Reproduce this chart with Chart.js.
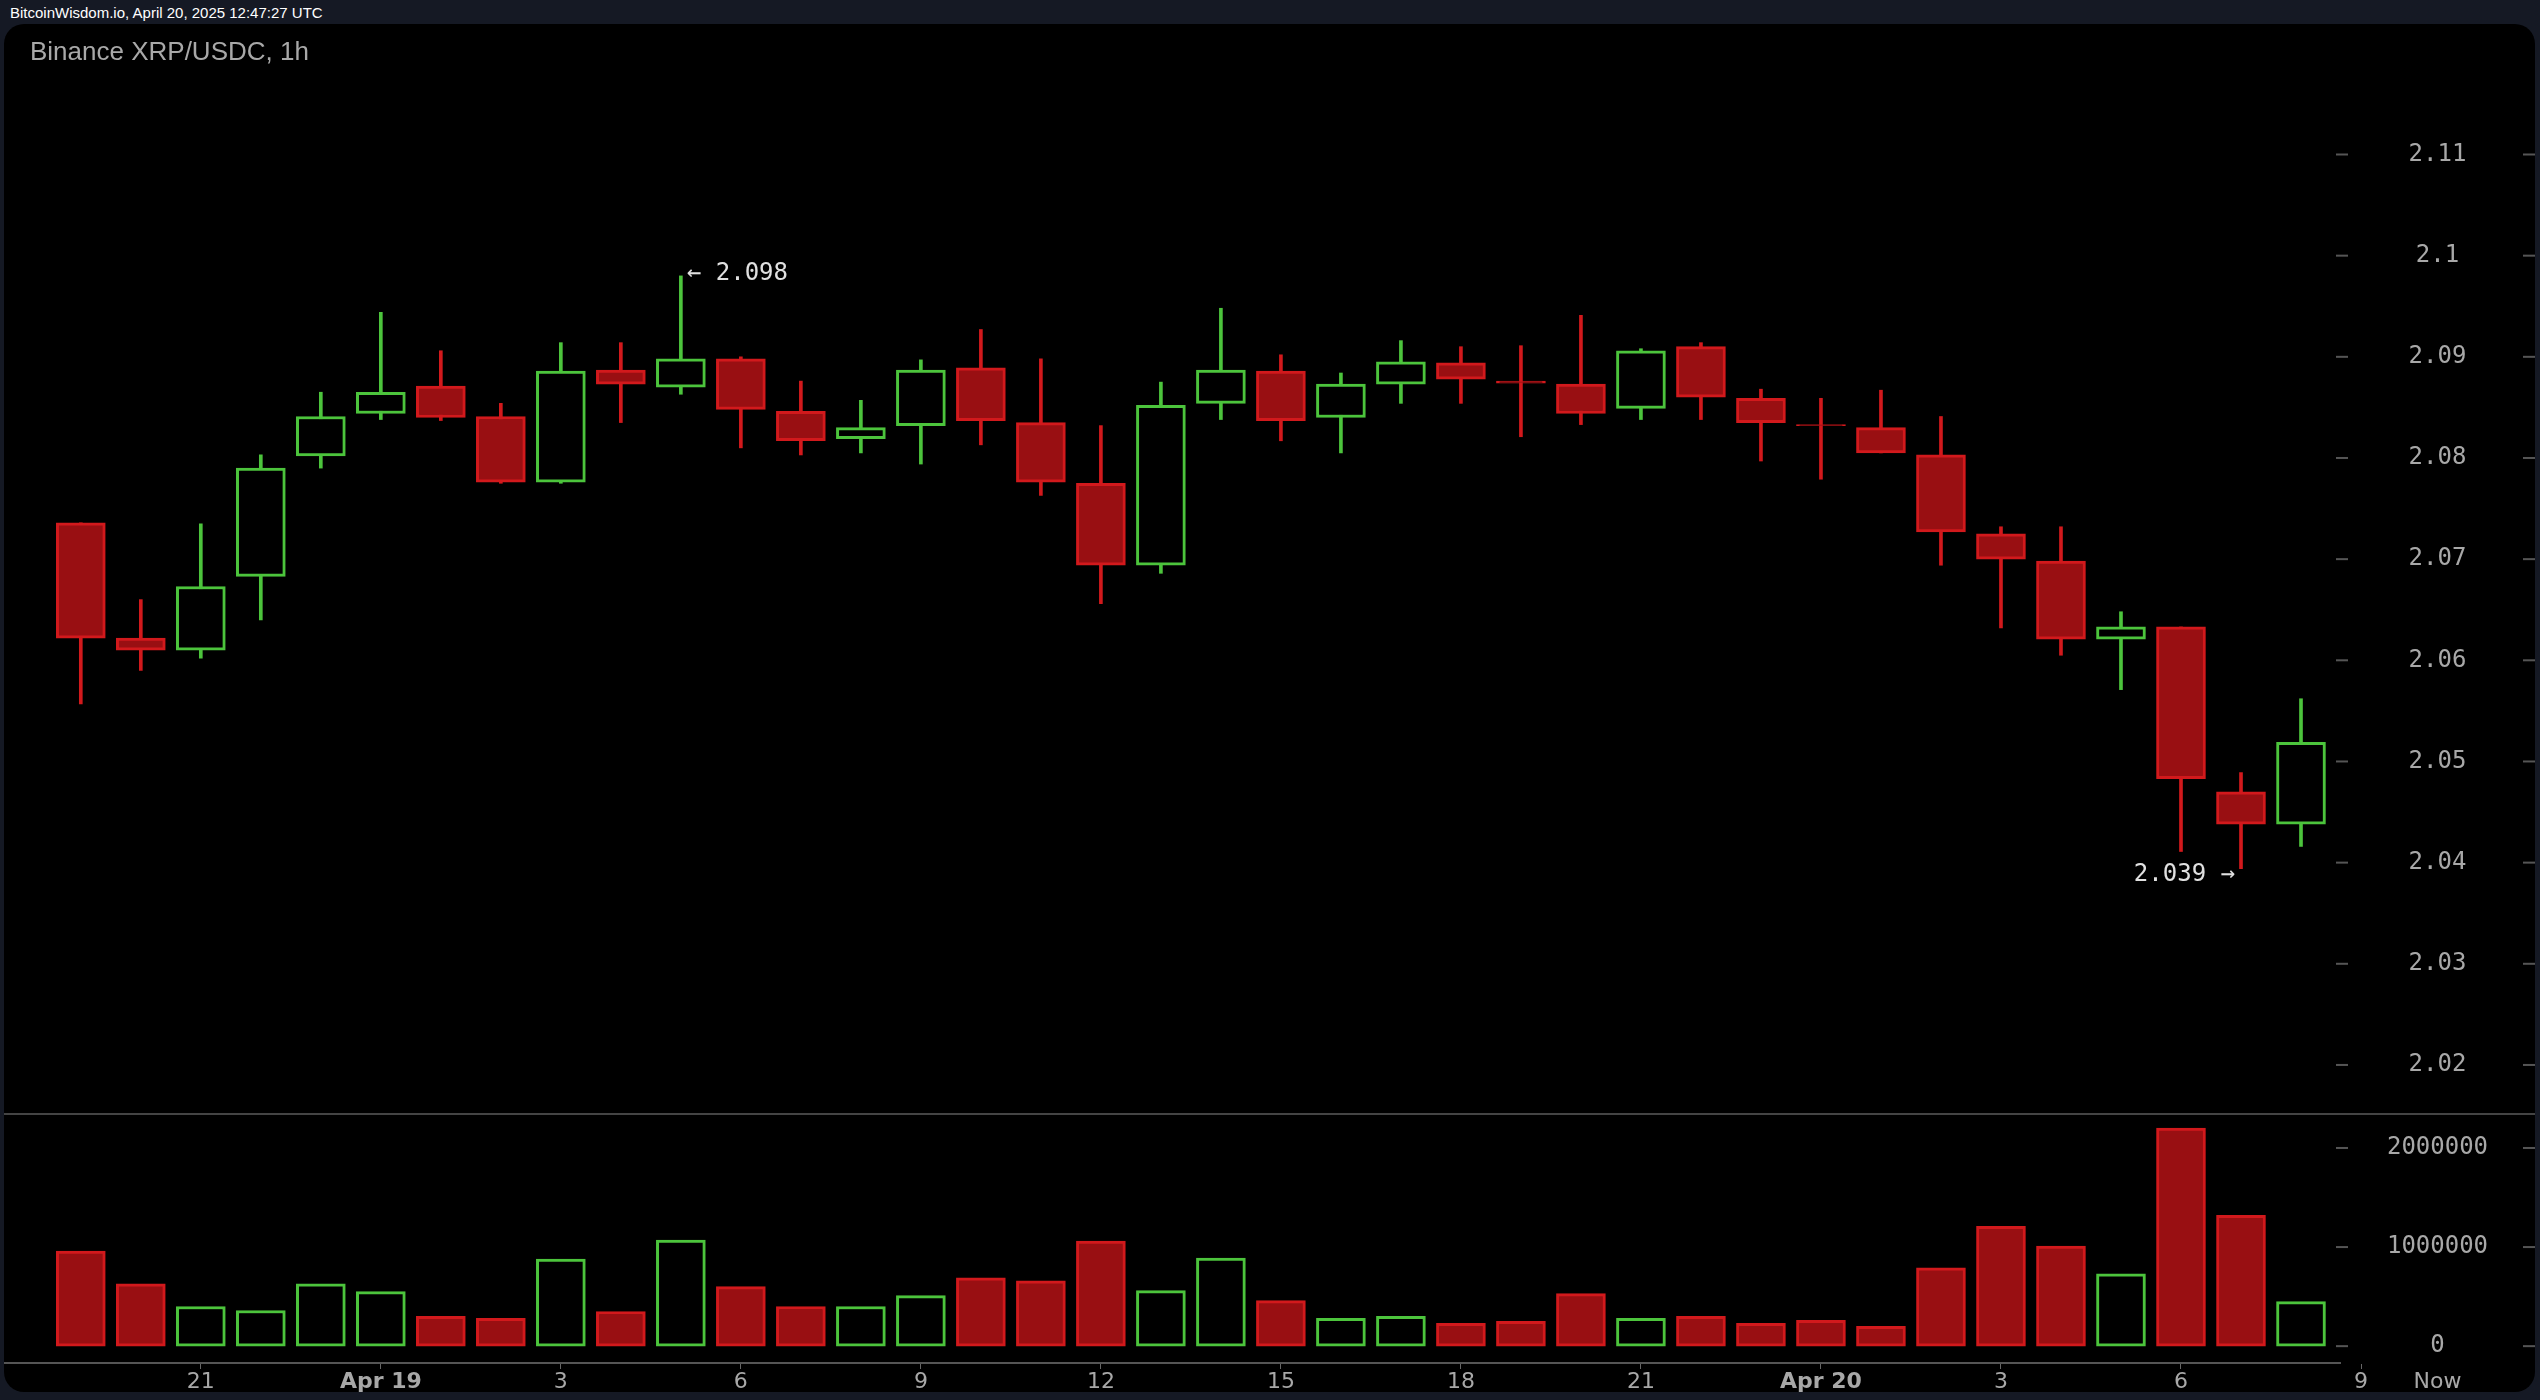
<!DOCTYPE html>
<html>
<head>
<meta charset="utf-8">
<script src="https://cdn.jsdelivr.net/npm/chart.js@4.4.1/dist/chart.umd.min.js"></script>
<style>
  html, body { margin: 0; padding: 0; background: #151924; width: 2540px; height: 1400px; overflow: hidden; }
  #site { position: absolute; left: 10px; top: 4px; font: 15px "Liberation Sans", Arial, sans-serif; color: #fff; }
  #panel { position: absolute; left: 4px; top: 24px; width: 2531px; height: 1368px; background: #000; border-radius: 20px; overflow: hidden; }
  #title { position: absolute; left: 26px; top: 12px; font: 26px "Liberation Sans", Arial, sans-serif; color: #a8a8a8; z-index: 2; }
  #priceBox { position: absolute; left: 0; top: 0; width: 2531px; height: 1089px; }
  #volBox { position: absolute; left: 0; top: 1089px; width: 2531px; height: 279px; }
</style>
</head>
<body>
<div id="site">BitcoinWisdom.io, April 20, 2025 12:47:27 UTC</div>
<div id="panel">
  <div id="title">Binance XRP/USDC, 1h</div>
  <div id="priceBox"><canvas id="priceChart"></canvas></div>
  <div id="volBox"><canvas id="volChart"></canvas></div>
</div>
<script>
// hourly candles, Apr 18 19:00 .. Apr 20 08:00 UTC
const opens  = [2.0736,2.0622,2.0610,2.0683,2.0802,2.0844,2.0871,2.0841,2.0776,2.0887,2.0870,2.0898,2.0846,2.0819,2.0832,2.0889,2.0835,2.0775,2.0694,2.0854,2.0886,2.0840,2.0873,2.0894,2.0876,2.0873,2.0849,2.0910,2.0859,2.0833,2.0830,2.0803,2.0725,2.0698,2.0621,2.0633,2.0470,2.0438];
const closes = [2.0622,2.0610,2.0673,2.0790,2.0841,2.0865,2.0840,2.0776,2.0886,2.0873,2.0898,2.0848,2.0817,2.0830,2.0887,2.0837,2.0776,2.0694,2.0852,2.0887,2.0837,2.0873,2.0895,2.0878,2.0874,2.0844,2.0906,2.0860,2.0835,2.0832,2.0805,2.0727,2.0700,2.0621,2.0633,2.0483,2.0438,2.0519];
const highs  = [2.0736,2.0660,2.0735,2.0803,2.0865,2.0944,2.0906,2.0854,2.0914,2.0914,2.0980,2.0900,2.0876,2.0857,2.0897,2.0927,2.0898,2.0832,2.0875,2.0948,2.0902,2.0884,2.0916,2.0910,2.0911,2.0941,2.0908,2.0914,2.0868,2.0859,2.0867,2.0841,2.0732,2.0732,2.0648,2.0633,2.0489,2.0562];
const lows   = [2.0557,2.0590,2.0602,2.0640,2.0790,2.0838,2.0837,2.0775,2.0775,2.0835,2.0863,2.0810,2.0803,2.0805,2.0794,2.0813,2.0763,2.0656,2.0686,2.0838,2.0817,2.0805,2.0854,2.0854,2.0821,2.0833,2.0838,2.0838,2.0797,2.0779,2.0805,2.0694,2.0632,2.0605,2.0571,2.0411,2.0394,2.0416];
const volumes = [960000,630000,400000,360000,630000,550000,300000,280000,880000,350000,1070000,600000,400000,400000,510000,690000,660000,1060000,560000,890000,460000,280000,300000,230000,250000,530000,280000,300000,230000,260000,200000,790000,1210000,1010000,730000,2200000,1320000,450000];
const timeTicks = [2,5,8,11,14,17,20,23,26,29,32,35,38];
const timeLabels = ['21','Apr 19','3','6','9','12','15','18','21','Apr 20','3','6','9'];
const priceTicks = [2.02,2.03,2.04,2.05,2.06,2.07,2.08,2.09,2.10,2.11];
const volumeTicks = [0,1000000,2000000];

const UP = '#4cc43c', DOWN = '#d2191c', DOWN_FILL = '#990f12';
const MONO = '"DejaVu Sans Mono", monospace';
const idx = opens.map((_, i) => i);
const isUp = opens.map((o, i) => closes[i] > o);
const X_MIN = -1.28, X_MAX = 37.65, AXIS_W = 195;

function xScale(showTicks) {
  return {
    type: 'linear', min: X_MIN, max: X_MAX, display: showTicks, offset: false,
    afterBuildTicks: s => { s.ticks = timeTicks.map(v => ({ value: v })); },
    afterFit: s => { if (showTicks) s.height = 29; },
    grid: { drawOnChartArea: false, drawTicks: true, tickLength: 6, color: '#666', offset: false },
    border: { display: true, color: '#555', width: 2 },
    ticks: {
      color: '#a8a8a8', padding: 0, maxRotation: 0, autoSkip: false,
      font: c => ({ family: '"DejaVu Sans", sans-serif', size: 22,
        weight: String(timeLabels[c.index] || '').startsWith('Apr') ? 'bold' : 'normal' }),
      callback: (v, i) => timeLabels[i]
    }
  };
}

// draws the right axis labels and dashes like the original
function rightAxis(ticks, fmt) {
  return {
    id: 'rightAxis',
    afterDraw(chart) {
      const { ctx, chartArea, scales } = chart;
      ctx.save();
      ctx.font = '24px ' + MONO;
      ctx.textAlign = 'center';
      ctx.textBaseline = 'middle';
      ticks.forEach(t => {
        const y = scales.y.getPixelForValue(t);
        ctx.fillStyle = '#555';
        ctx.fillRect(chartArea.right - 4, y - 1, 12, 2);
        ctx.fillRect(chart.width - 12, y - 1, 12, 2);
        ctx.fillStyle = '#a8a8a8';
        ctx.fillText(fmt(t), chartArea.right + AXIS_W / 2, y);
      });
      ctx.restore();
    }
  };
}

const wickData = idx.map(i => ({ x: i, y: [lows[i], highs[i]] }));
const bodyData = idx.map(i => ({ x: i, y: [opens[i], closes[i] === opens[i] ? closes[i] + 0.00005 : closes[i]] }));

const markers = {
  id: 'markers',
  afterDatasetsDraw(chart) {
    const { ctx, scales } = chart;
    ctx.save();
    ctx.font = '24px ' + MONO;
    ctx.fillStyle = '#e0e0e0';
    ctx.textBaseline = 'middle';
    ctx.textAlign = 'left';
    ctx.fillText('\u2190 2.098', scales.x.getPixelForValue(10) + 6, scales.y.getPixelForValue(2.098) - 2);
    ctx.textAlign = 'right';
    ctx.fillText('2.039 \u2192', scales.x.getPixelForValue(36) - 6, scales.y.getPixelForValue(2.039) + 2);
    ctx.restore();
  }
};

new Chart(document.getElementById('priceChart'), {
  type: 'bar',
  data: {
    datasets: [{
      data: wickData,
      backgroundColor: idx.map(i => isUp[i] ? UP : DOWN),
      barThickness: 3, grouped: false, order: 2
    }, {
      data: bodyData,
      backgroundColor: idx.map(i => isUp[i] ? '#000' : DOWN_FILL),
      borderColor: idx.map(i => isUp[i] ? UP : DOWN),
      borderWidth: 3, borderSkipped: false,
      barThickness: 49, grouped: false, order: 1
    }]
  },
  options: {
    responsive: true, maintainAspectRatio: false, animation: false,
    layout: { padding: 0 },
    plugins: { legend: { display: false }, tooltip: { enabled: false } },
    scales: {
      x: xScale(false),
      y: {
        position: 'right', min: 2.01525, max: 2.1229,
        afterFit: s => { s.width = AXIS_W; },
        ticks: { display: false }, grid: { display: false }, border: { display: false }
      }
    }
  },
  plugins: [rightAxis(priceTicks, v => String(+v.toFixed(2))), markers]
});

new Chart(document.getElementById('volChart'), {
  type: 'bar',
  data: {
    datasets: [{
      data: idx.map(i => ({ x: i, y: volumes[i] })),
      backgroundColor: idx.map(i => isUp[i] ? '#000' : DOWN_FILL),
      borderColor: idx.map(i => isUp[i] ? UP : DOWN),
      borderWidth: 3, borderSkipped: false, barThickness: 49
    }]
  },
  options: {
    responsive: true, maintainAspectRatio: false, animation: false,
    layout: { padding: 0 },
    plugins: { legend: { display: false }, tooltip: { enabled: false } },
    scales: {
      x: xScale(true),
      y: {
        position: 'right', min: -170000, max: 2353000,
        afterFit: s => { s.width = AXIS_W; },
        ticks: { display: false }, grid: { display: false }, border: { display: false }
      }
    }
  },
  plugins: [rightAxis(volumeTicks, v => String(v)), {
    id: 'topLineAndNow',
    afterDraw(chart) {
      const { ctx, chartArea } = chart;
      ctx.save();
      ctx.fillStyle = '#444';
      ctx.fillRect(0, 0, chart.width, 2);
      ctx.font = '22px "DejaVu Sans", sans-serif';
      ctx.fillStyle = '#a8a8a8';
      ctx.textAlign = 'center';
      ctx.textBaseline = 'top';
      ctx.fillText('Now', chartArea.right + AXIS_W / 2, chartArea.bottom + 8);
      ctx.restore();
    }
  }]
});
</script>
</body>
</html>
